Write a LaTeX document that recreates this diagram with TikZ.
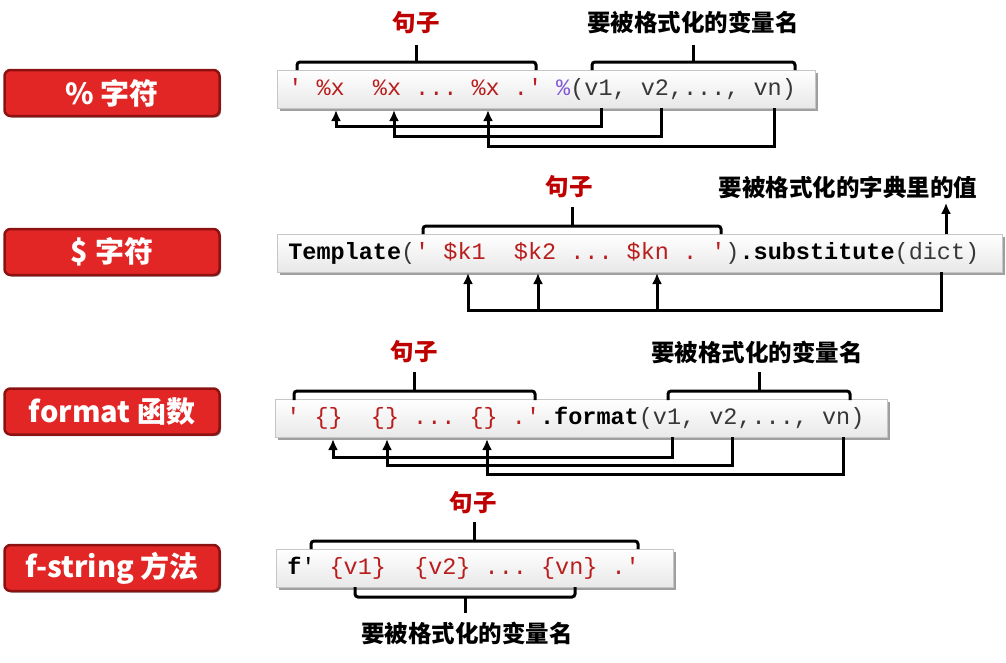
\documentclass[tikz,border=0pt]{standalone}
\usepackage{fontspec}
\newfontfamily\cjkfont{Noto Sans CJK SC}
\newfontfamily\codefont{Liberation Mono}
\usetikzlibrary{%
    arrows.meta,%
    shadows%
}
\definecolor{btnred}{RGB}{226,38,38}
\definecolor{btndark}{RGB}{140,18,18}
\definecolor{strred}{RGB}{185,30,30}
\definecolor{pctpurple}{RGB}{130,90,215}
\definecolor{argray}{RGB}{55,55,55}
\definecolor{lblred}{RGB}{190,0,0}
\newcommand{\strc}[1]{\textcolor{strred}{#1}}
\newcommand{\argc}[1]{\textcolor{argray}{#1}}
\newcommand{\sk}{\hspace*{.6em}}
\tikzset{
    button/.style={draw=btndark, line width=2.5pt, fill=btnred, rounded corners=6pt,
        minimum width=215pt, minimum height=46pt, text=white,
        font=\cjkfont\bfseries\fontsize{29}{33}\selectfont,
        drop shadow={shadow xshift=1.5pt, shadow yshift=-1.5pt, fill=black!60, opacity=.8}},
    codebox/.style={anchor=west, draw=gray!45, line width=.6pt, top color=white, bottom color=gray!18,
        minimum height=38pt, inner xsep=11pt, inner ysep=0pt, align=left,
        font=\codefont\fontsize{23.5}{28}\selectfont,
        drop shadow={shadow xshift=3pt, shadow yshift=-2.5pt, fill=gray!75, opacity=1}},
    lbl/.style={font=\cjkfont\bfseries\fontsize{23.5}{27}\selectfont},
    brk/.style={line width=3pt, rounded corners=3pt},
    link/.style={line width=3pt, -{Latex[length=11pt,width=10pt]}},
    bus/.style={line width=3pt}
}
\begin{document}
\begin{tikzpicture}[x=1pt, y=-1pt]
\useasboundingbox (0,0) rectangle (1006,662);

%% botones
\node[button] (btnPct) at (112,93) {\% 字符};
\node[button] (btnDollar) at (112,252) {\$ 字符};
\node[button] (btnFormat) at (112,411.5) {format 函数};
\node[button] (btnFstr) at (112,568) {f-string 方法};

%% codigo
\node[codebox, text width=516pt] (codePct) at (277,89)
    {\strc{'\sk\%x\sk\sk\%x\sk...\sk\%x\sk.'}\sk\textcolor{pctpurple}{\%}\argc{(v1,\sk v2,...,\sk vn)}};
\node[codebox, text width=703pt] (codeDollar) at (277,253)
    {\textbf{Template}\argc{(}\strc{'\sk\$k1\sk\sk\$k2\sk...\sk\$kn\sk.\sk'}\argc{)}\textbf{.substitute}\argc{(dict)}};
\node[codebox, text width=590pt] (codeFormat) at (275,418.5)
    {\strc{'\sk\{\}\sk\sk\{\}\sk...\sk\{\}\sk.'}\textbf{.format}\argc{(v1,\sk v2,...,\sk vn)}};
\node[codebox, text width=375pt] (codeFstr) at (276,568)
    {\textbf{f}'\strc{\sk\{v1\}\sk\sk\{v2\}\sk...\sk\{vn\}\sk.'}};

%% etiquetas
\node[lbl, text=lblred] (sentPct) at (416,23) {句子};
\node[lbl] (varPct) at (693,22) {要被格式化的变量名};
\node[lbl, text=lblred] (sentDollar) at (569,187) {句子};
\node[lbl] (dictLbl) at (848,188) {要被格式化的字典里的值};
\node[lbl, text=lblred] (sentFormat) at (414,352) {句子};
\node[lbl] (varFormat) at (757,352) {要被格式化的变量名};
\node[lbl, text=lblred] (sentFstr) at (473,503) {句子};
\node[lbl] (varFstr) at (467,633) {要被格式化的变量名};

%% corchetes
\draw[brk] (297,70) -- (297,62) -- (536,62) -- (536,70);   %句子 1
\draw[brk] (416.5,62) -- (416.5,45);
\draw[brk] (592,70) -- (592,62) -- (795,62) -- (795,70);   %变量 1
\draw[brk] (693.5,62) -- (693.5,45);
\draw[brk] (423,234) -- (423,226) -- (721,226) -- (721,234); %句子 2
\draw[brk] (572,226) -- (572,207);
\draw[brk] (294,400) -- (294,391) -- (535,391) -- (535,400); %句子 3
\draw[brk] (414.5,391) -- (414.5,372);
\draw[brk] (668,400) -- (668,391) -- (850,391) -- (850,400); %变量 3
\draw[brk] (759,391) -- (759,372);
\draw[brk] (311,549) -- (311,541) -- (638,541) -- (638,549); %句子 4
\draw[brk] (474.5,541) -- (474.5,522);
\draw[brk] (355,587) -- (355,597) -- (575,597) -- (575,587); %变量 4
\draw[brk] (465,597) -- (465,613);

%% flechas fila 1
\coordinate (pv1) at (601,108);
\coordinate (pv2) at (661,108);
\coordinate (pvn) at (774,108);
\coordinate (px1) at (336,110);
\coordinate (px2) at (394,110);
\coordinate (pxn) at (488,110);
\draw[link] (pv1) -- ++(0,18) -| (px1);
\draw[link] (pv2) -- ++(0,28) -| (px2);
\draw[link] (pvn) -- ++(0,38) -| (pxn);

%% flechas fila 2
\coordinate (dictTop) at (946,234);
\coordinate (dictBot) at (941,272);
\coordinate (kBus) at (941,310);
\coordinate (k1) at (468,273);
\coordinate (k2) at (538,273);
\coordinate (kn) at (657,273);
\draw[link] (dictTop) -- (dictTop |- dictLbl.south);
\draw[link] (dictBot) -- (kBus) -| (k1);
\draw[link] (k2 |- kBus) -- (k2);
\draw[link] (kn |- kBus) -- (kn);

%% flechas fila 3
\coordinate (fv1) at (672,437);
\coordinate (fv2) at (732,437);
\coordinate (fvn) at (843,437);
\coordinate (fx1) at (333,439);
\coordinate (fx2) at (387,439);
\coordinate (fxn) at (487,439);
\draw[link] (fv1) -- ++(0,20) -| (fx1);
\draw[link] (fv2) -- ++(0,28.5) -| (fx2);
\draw[link] (fvn) -- ++(0,37) -| (fxn);

\end{tikzpicture}
\end{document}
